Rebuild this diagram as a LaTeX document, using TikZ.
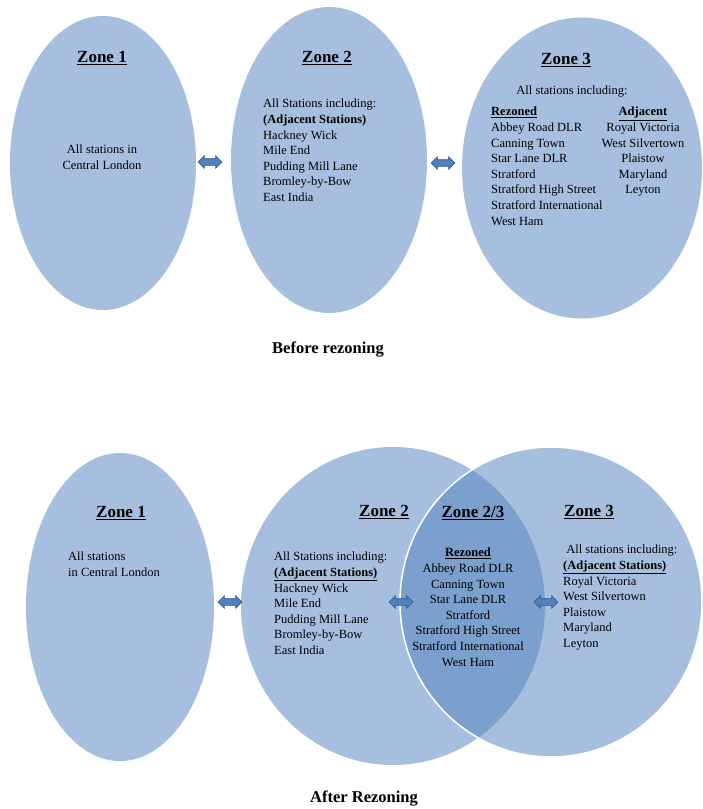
\documentclass[tikz,border=0pt]{standalone}
\usepackage{fontspec}
\setmainfont{Liberation Serif}
\usetikzlibrary{shapes.geometric,shapes.arrows}
\definecolor{zonefill}{RGB}{167,191,222}
\definecolor{zonedark}{RGB}{124,160,205}
\definecolor{arrowfill}{RGB}{79,129,189}
\definecolor{arrowdraw}{RGB}{52,90,138}
\tikzset{
  zone/.style={ellipse, fill=zonefill, draw=none, inner sep=0pt},
  title/.style={font=\fontsize{17}{20}\selectfont\bfseries, inner sep=0pt},
  body/.style={font=\fontsize{12.5}{15.6}\selectfont, inner sep=0pt},
  biarrow/.style={double arrow, fill=arrowfill, draw=arrowdraw, line width=0.6pt,
    minimum height=24pt, inner sep=3pt, double arrow head extend=3pt},
  caption/.style={font=\fontsize{16.5}{20}\selectfont\bfseries, inner sep=0pt}
}
\begin{document}
\begin{tikzpicture}[x=1pt,y=-1pt]
\useasboundingbox (0,0) rectangle (702,809);
% ---------- Before rezoning ----------
\node[zone, minimum width=186pt, minimum height=294pt] (a1) at (103,163) {};
\node[zone, minimum width=196pt, minimum height=306pt] (a2) at (329,160) {};
\node[zone, minimum width=240pt, minimum height=301pt] (a3) at (582,168) {};
\node[biarrow] (aa12) at (210,162) {};
\node[biarrow] (aa23) at (443,163) {};
\node[title] (a1t) at (102,58) {\underline{Zone 1}};
\node[title] (a2t) at (327,58) {\underline{Zone 2}};
\node[title] (a3t) at (566,60) {\underline{Zone 3}};
\node[body, align=center, anchor=north] (a1x) at (102,145) {All stations in\\Central London};
\node[body, align=left, anchor=north west] (a2x) at (263,99) {All Stations including:\\\textbf{(Adjacent Stations)}\\Hackney Wick\\Mile End\\Pudding Mill Lane\\Bromley-by-Bow\\East India};
\node[body, anchor=north] (a3h) at (572,86) {All stations including:};
\node[body, align=left, anchor=north west] (a3r) at (491,107) {\textbf{\underline{Rezoned}}\\Abbey Road DLR\\Canning Town\\Star Lane DLR\\Stratford\\Stratford High Street\\Stratford International\\West Ham};
\node[body, align=center, anchor=north] (a3a) at (643,107) {\textbf{\underline{Adjacent}}\\Royal Victoria\\West Silvertown\\Plaistow\\Maryland\\Leyton};
\node[caption] (acap) at (328,350) {Before rezoning};
% ---------- After rezoning ----------
\node[zone, minimum width=188pt, minimum height=308pt] (b1) at (120,607) {};
\node[zone, minimum width=304pt, minimum height=318pt] (b2) at (393,606) {};
\node[zone, minimum width=302pt, minimum height=310pt] (b3) at (551,602) {};
\begin{scope}
  \clip (b2.center) ellipse [x radius=152pt, y radius=159pt];
  \fill[zonedark] (b3.center) ellipse [x radius=151pt, y radius=155pt];
\end{scope}
\draw[white, line width=1.5pt] (b3.center) ellipse [x radius=151pt, y radius=155pt];
\node[biarrow] (ba12) at (230,602) {};
\node[biarrow] (ba2o) at (401,602) {};
\node[biarrow] (bao3) at (546,602) {};
\node[title] (b1t) at (121,513) {\underline{Zone 1}};
\node[title] (b2t) at (384,512) {\underline{Zone 2}};
\node[title] (bot) at (473,513) {\underline{Zone 2/3}};
\node[title] (b3t) at (589,512) {\underline{Zone 3}};
\node[body, align=left, anchor=north west] (b1x) at (68,552) {All stations\\in Central London};
\node[body, align=left, anchor=north west] (b2x) at (274,552) {All Stations including:\\\textbf{\underline{(Adjacent Stations)}}\\Hackney Wick\\Mile End\\Pudding Mill Lane\\Bromley-by-Bow\\East India};
\node[body, align=center, anchor=north] (box) at (468,548) {\textbf{\underline{Rezoned}}\\Abbey Road DLR\\Canning Town\\Star Lane DLR\\Stratford\\Stratford High Street\\Stratford International\\West Ham};
\node[body, align=left, anchor=north west] (b3x) at (563,545) {\ All stations including:\\\textbf{\underline{(Adjacent Stations)}}\\Royal Victoria\\West Silvertown\\Plaistow\\Maryland\\Leyton};
\node[caption] (bcap) at (364,799) {After Rezoning};
\end{tikzpicture}
\end{document}
